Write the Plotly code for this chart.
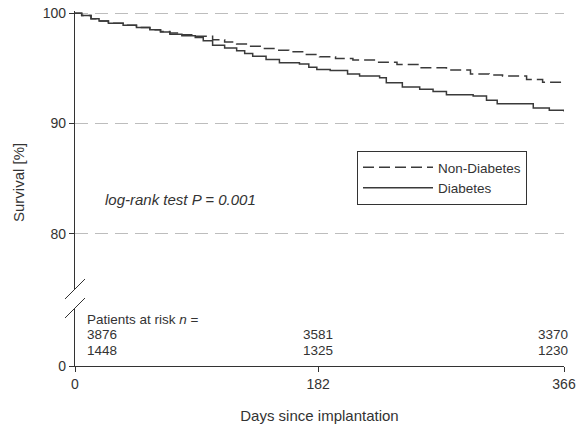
import plotly.graph_objects as go

# ---- data ----
days_non_diabetes = [0, 5, 12, 18, 25, 36, 46, 56, 64, 71, 80, 90, 103, 112, 121, 130, 140, 150,
                     160, 172, 183, 195, 208, 225, 241, 258, 278, 296, 310, 320, 338, 350, 366]
surv_non_diabetes = [100, 99.8, 99.5, 99.3, 99.1, 98.9, 98.7, 98.5, 98.35, 98.2, 98.05, 97.9, 97.6,
                     97.4, 97.2, 97.0, 96.8, 96.65, 96.5, 96.25, 96.05, 95.9, 95.75, 95.55, 95.35,
                     95.05, 94.85, 94.5, 94.4, 94.3, 94.0, 93.75, 93.7]

days_diabetes = [0, 5, 12, 18, 25, 36, 46, 56, 64, 71, 80, 90, 96, 103, 112, 121, 127, 133, 143,
                 153, 168, 175, 181, 191, 204, 213, 228, 233, 245, 258, 268, 278, 298, 308, 316,
                 335, 343, 355, 366]
surv_diabetes = [100, 99.8, 99.5, 99.3, 99.1, 98.9, 98.7, 98.5, 98.3, 98.1, 97.95, 97.8, 97.5,
                 97.1, 96.85, 96.6, 96.35, 96.1, 95.8, 95.5, 95.4, 95.1, 94.9, 94.8, 94.5, 94.3,
                 94.15, 93.7, 93.3, 93.1, 92.9, 92.6, 92.5, 92.1, 91.8, 91.8, 91.4, 91.2, 91.1]

risk_days = [0, 182, 366]
risk_non_diabetes = [3876, 3581, 3370]
risk_diabetes = [1448, 1325, 1230]

x_ticks = [0, 182, 366]
y_ticks_top = [80, 90, 100]
y_ticks_bottom = [0]

FONT = "Liberation Sans, Arial, sans-serif"
INK = "#333333"
LINE = "#3a3a3a"

# plot area in picture pixels: x 75..564, y 11..366
PL, PT, PW, PH = 75, 11, 489, 355
def px(x):
    return (x - PL) / PW
def py(y):
    return (PT + PH - y) / PH

fig = go.Figure()
fig.add_trace(go.Scatter(
    x=days_non_diabetes, y=surv_non_diabetes, xaxis="x", yaxis="y2",
    mode="lines", line=dict(color=LINE, width=1.5, dash="11px,5px", shape="hv"),
    name="Non-Diabetes"))
fig.add_trace(go.Scatter(
    x=days_diabetes, y=surv_diabetes, xaxis="x", yaxis="y2",
    mode="lines", line=dict(color=LINE, width=1.5, shape="hv"),
    name="Diabetes"))
# invisible anchor trace so the lower (0-based) axis segment exists
fig.add_trace(go.Scatter(
    x=[0], y=[0], xaxis="x", yaxis="y", mode="markers",
    marker=dict(opacity=0), showlegend=False, hoverinfo="skip"))

annotations = []
row_y = py(319)
annotations.append(dict(x=0, y=row_y, xref="x", yref="paper", xshift=10,
                        text="Patients at risk <i>n</i> =", showarrow=False,
                        xanchor="left", yanchor="middle",
                        font=dict(family=FONT, size=13.5, color=INK)))
anchors = ["left", "center", "right"]
shifts = [10, 0, 6]
for d, a, s, nd, di in zip(risk_days, anchors, shifts, risk_non_diabetes, risk_diabetes):
    annotations.append(dict(x=d, y=row_y, xref="x", yref="paper", xshift=s, yshift=-15,
                            text=str(nd), showarrow=False, xanchor=a, yanchor="middle",
                            font=dict(family=FONT, size=13.5, color=INK)))
    annotations.append(dict(x=d, y=row_y, xref="x", yref="paper", xshift=s, yshift=-31,
                            text=str(di), showarrow=False, xanchor=a, yanchor="middle",
                            font=dict(family=FONT, size=13.5, color=INK)))

annotations.append(dict(x=px(103), y=py(199), xref="paper", yref="paper",
                        text="<i>log-rank test P = 0.001</i>", showarrow=False,
                        xanchor="left", yanchor="middle",
                        font=dict(family=FONT, size=15, color=INK)))
annotations.append(dict(x=px(18), y=py(183), xref="paper", yref="paper",
                        text="Survival [%]", textangle=-90, showarrow=False,
                        xanchor="center", yanchor="middle",
                        font=dict(family=FONT, size=15, color=INK)))

shapes = [
    dict(type="line", xref="paper", yref="paper",
         x0=px(65), x1=px(85), y0=py(299), y1=py(279),
         line=dict(color=INK, width=1)),
    dict(type="line", xref="paper", yref="paper",
         x0=px(65), x1=px(85), y0=py(318), y1=py(298),
         line=dict(color=INK, width=1)),
]

fig.update_layout(
    width=576, height=430, autosize=False,
    margin=dict(l=PL, r=576 - (PL + PW), t=PT, b=430 - (PT + PH)),
    paper_bgcolor="white", plot_bgcolor="white",
    font=dict(family=FONT, size=14, color=INK),
    showlegend=True,
    legend=dict(x=px(357), y=py(151), xanchor="left", yanchor="top",
                bordercolor=INK, borderwidth=1, bgcolor="white",
                font=dict(family=FONT, size=13.5, color=INK),
                itemwidth=70, tracegroupgap=0),
    xaxis=dict(domain=[0, 1], range=[0, 366], anchor="y", automargin=False,
               tickvals=x_ticks, ticks="outside", ticklen=5, tickcolor=INK,
               ticklabeloverflow="allow",
               showline=True, linecolor=INK, linewidth=1.2, showgrid=False, zeroline=False,
               tickfont=dict(family=FONT, size=14, color=INK),
               title=dict(text="Days since implantation", standoff=19,
                          font=dict(family=FONT, size=15, color=INK))),
    yaxis=dict(domain=[0, py(308)], range=[0, 10], anchor="x", automargin=False,
               tickvals=y_ticks_bottom, ticks="outside", ticklen=5, tickcolor=INK,
               showline=True, linecolor=INK, linewidth=1.2, showgrid=False, zeroline=False,
               tickfont=dict(family=FONT, size=14, color=INK)),
    yaxis2=dict(domain=[py(289), 1], range=[75, 100.2], anchor="x", automargin=False,
                tickvals=y_ticks_top, ticks="outside", ticklen=5, tickcolor=INK,
                ticklabeloverflow="allow",
                showline=True, linecolor=INK, linewidth=1.2,
                showgrid=True, gridcolor="#bdbdbd", gridwidth=1, griddash="13px,7px",
                zeroline=False,
                tickfont=dict(family=FONT, size=14, color=INK)),
    annotations=annotations,
    shapes=shapes,
)

# remove the browser's default 8px page margin so the figure fills the window exactly
fig.write_html("out.html",
               config={"responsive": False, "displayModeBar": False, "staticPlot": True},
               post_script="document.body.style.margin='0';document.body.style.overflow='hidden';")
